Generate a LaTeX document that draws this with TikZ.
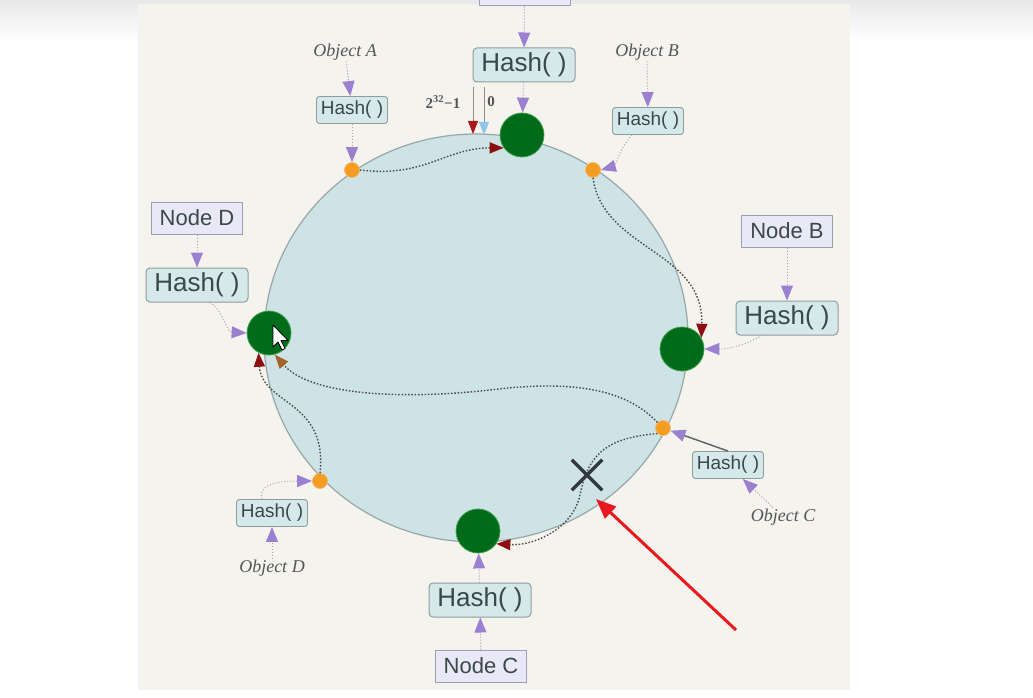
\documentclass[tikz,border=0pt]{standalone}
\usepackage{fontspec}
\setmainfont{Liberation Sans}
\newfontfamily\objfont{Liberation Serif}
\usetikzlibrary{arrows.meta,shapes.misc}

\definecolor{panelbg}{HTML}{F4F3EE}
\definecolor{ringfill}{HTML}{CDE3E5}
\definecolor{ringline}{HTML}{97A6A6}
\definecolor{srvgreen}{HTML}{006B1B}
\definecolor{srvedge}{HTML}{3FA04A}
\definecolor{dotorange}{HTML}{F59C22}
\definecolor{dotedge}{HTML}{F2B968}
\definecolor{hashfill}{HTML}{D6E9EA}
\definecolor{boxline}{HTML}{8E9C9C}
\definecolor{nodefill}{HTML}{E9E8F7}
\definecolor{nodeline}{HTML}{9E9CB4}
\definecolor{boxtxt}{HTML}{3B4848}
\definecolor{objtxt}{HTML}{555555}
\definecolor{purp}{HTML}{9B80D2}
\definecolor{feedline}{HTML}{A4A4AE}
\definecolor{walkline}{HTML}{4A4A4A}
\definecolor{walkred}{HTML}{8E0F0F}
\definecolor{walkbrown}{HTML}{A5642A}
\definecolor{maxred}{HTML}{A8191E}
\definecolor{zeroblue}{HTML}{92C5EA}
\definecolor{pointerred}{HTML}{E8191E}
\definecolor{crossgray}{HTML}{333840}

\tikzset{
  ring/.style={fill=ringfill, draw=ringline, line width=1.2pt},
  server/.style={circle, fill=srvgreen, draw=srvedge, line width=0.8pt, minimum size=44pt, inner sep=0pt},
  keydot/.style={circle, fill=dotorange, draw=dotedge, line width=0.8pt, minimum size=15pt, inner sep=0pt},
  boxtext/.style={text=boxtxt, inner sep=0pt},
  hashbig/.style={boxtext, draw=boxline, fill=hashfill, rounded corners=4pt, line width=1pt, minimum width=102pt, minimum height=34pt, font=\fontsize{26}{30}\selectfont},
  hashsmall/.style={boxtext, draw=boxline, fill=hashfill, rounded corners=3pt, line width=0.9pt, minimum width=71pt, minimum height=27pt, font=\fontsize{19}{22}\selectfont},
  nodebox/.style={boxtext, draw=nodeline, fill=nodefill, line width=1pt, minimum width=91pt, minimum height=32pt, font=\fontsize{22}{26}\selectfont},
  objlabel/.style={text=objtxt, inner sep=1pt, font=\objfont\itshape\fontsize{18}{21}\selectfont},
  ringend/.style={text=objtxt, inner sep=0pt, font=\objfont\bfseries\fontsize{15}{18}\selectfont},
  endmark/.style={draw=black!45, line width=0.8pt},
  feed/.style={draw=feedline, dotted, line width=1pt, -{Triangle[length=15pt,width=12pt,color=purp]}},
  feedsolid/.style={draw=black!60, line width=1.5pt, -{Triangle[length=15pt,width=12pt,color=purp]}},
  walk/.style={draw=walkline, dash pattern=on 1.5pt off 1.8pt, line width=1.4pt},
  redhead/.style={-{Triangle[length=14pt,width=11pt,color=walkred]}},
  brownhead/.style={-{Triangle[length=14pt,width=11pt,color=walkbrown]}},
  pointer/.style={draw=pointerred, line width=3pt, -{Triangle[length=20pt,width=16pt]}},
  gonemark/.style={cross out, draw=crossgray, line width=3.5pt, minimum size=27pt, inner sep=0pt},
}

\begin{document}
\begin{tikzpicture}[x=1pt, y=-1pt, line join=round]
\useasboundingbox (0,0) rectangle (1033,698);
% Backdrop: faded top strip and the slide panel
\shade[top color=black!9, bottom color=white] (0,0) rectangle (1033,42);
\fill[panelbg] (138,4) rectangle (850,690);

% Hash ring
\draw[ring] (476,338) ellipse [x radius=212, y radius=204];

% Servers placed on the ring
\node[server] (srvTop) at (522,135) {};
\node[server] (srvRight) at (682,349) {};
\node[server] (srvBottom) at (478,531) {};
\node[server] (srvLeft) at (269,333) {};
% Objects hashed onto the ring
\node[keydot] (dotA) at (352,170) {};
\node[keydot] (dotB) at (593,170) {};
\node[keydot] (dotC) at (663,428) {};
\node[keydot] (dotD) at (320,481) {};

% Server boxes and their hash boxes
\node[nodebox] (nodeA) at (524.5,-10) {};
\node[hashbig] (hashTop) at (524,65) {Hash( )};
\node[nodebox] (nodeD) at (197,218) {Node D};
\node[hashbig] (hashLeft) at (197,285) {Hash( )};
\node[nodebox] (nodeB) at (787,231) {Node B};
\node[hashbig] (hashRight) at (787,318) {Hash( )};
\node[hashbig] (hashBottom) at (480,600) {Hash( )};
\node[nodebox] (nodeC) at (481,666) {Node C};

% Object labels and their hash boxes
\node[hashsmall] (hashA) at (352,110) {Hash( )};
\node[hashsmall] (hashB) at (648,121) {Hash( )};
\node[hashsmall] (hashC) at (728,465) {Hash( )};
\node[hashsmall] (hashD) at (272,513) {Hash( )};
\node[objlabel] (objA) at (345,52) {Object A};
\node[objlabel] (objB) at (647,52) {Object B};
\node[objlabel] (objC) at (783,517) {Object C};
\node[objlabel] (objD) at (272,568) {Object D};

% Both ends of the ring
\node[ringend] (maxLabel) at (443,102) {2\textsuperscript{32}−1};
\node[ringend] (zeroLabel) at (491,102) {0};
\coordinate (maxTop) at (473,87);
\coordinate (maxEnd) at (473,134);
\coordinate (zeroTop) at (484,87);
\coordinate (zeroEnd) at (484,135);
\draw[endmark, -{Triangle[length=13pt,width=10pt,color=maxred]}] (maxTop) -- (maxEnd);
\draw[endmark, -{Triangle[length=13pt,width=10pt,color=zeroblue]}] (zeroTop) -- (zeroEnd);

% Hash feeds
\draw[feed] (nodeA) -- (hashTop);
\draw[feed] (hashTop) -- (srvTop);
\draw[feed] (nodeD) -- (hashLeft);
\draw[feed] ([xshift=13]hashLeft.south) .. controls (224,312) and (226,332) .. (srvLeft.west);
\draw[feed] (nodeB) -- (hashRight);
\draw[feed] ([xshift=-25]hashRight.south) .. controls (745,345) and (730,349) .. (srvRight.east);
\draw[feed] (nodeC) -- (hashBottom);
\draw[feed] (hashBottom) -- (srvBottom);
\draw[feed] (objA) -- (hashA);
\draw[feed] (hashA) -- (dotA);
\draw[feed] (objB) -- (hashB);
\draw[feed] ([xshift=-16]hashB.south) .. controls (620,148) and (615,166) .. (dotB.east);
\draw[feed] (objC) -- (hashC);
\draw[feedsolid] (hashC.north) -- (dotC);
\draw[feed] (objD) -- (hashD);
\draw[feed] ([xshift=-10]hashD.north) .. controls (258,484) and (278,481) .. (dotD.west);

% Walks clockwise to the next server
\draw[walk, redhead] (dotA.east) .. controls (425,178) and (445,148) .. (srvTop.215);
\draw[walk, redhead] (dotB.south) .. controls (603,250) and (704,250) .. (srvRight.30);
\draw[walk, brownhead] (dotC.north west) .. controls (625,388) and (570,380) .. (490,390)
  .. controls (400,400) and (310,395) .. (srvLeft.-75);
\draw[walk, redhead] (dotD.north) .. controls (328,400) and (262,405) .. (srvLeft.-118);
\draw[walk, redhead] (dotC.south west) .. controls (605,438) and (588,455) .. (580,495)
  .. controls (573,528) and (535,546) .. (srvBottom.-35);

% Removed server and the pointer to it
\node[gonemark] (gone) at (587,475) {};
\coordinate (pointerTail) at (736,630);
\coordinate (pointerHead) at (596,499);
\draw[pointer] (pointerTail) -- (pointerHead);

% Mouse cursor
\draw[fill=white, draw=black, line width=0.8pt] (273,325) -- ++(0,22) -- ++(5,-5) -- ++(4,8)
  -- ++(3,-1.5) -- ++(-4,-8) -- ++(7,0) -- cycle;
\end{tikzpicture}
\end{document}
